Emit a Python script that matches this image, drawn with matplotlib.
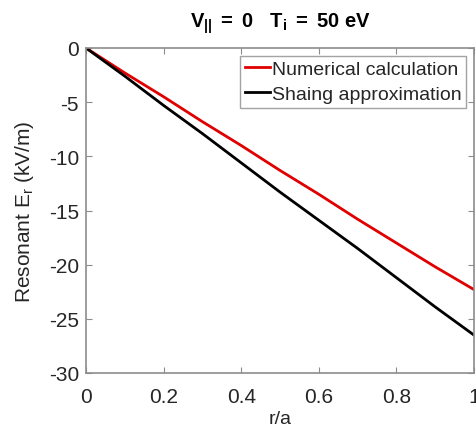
import numpy as np
import matplotlib.pyplot as plt

# radial position and resonant field values (kV/m)
r_a = [0.0, 0.1, 0.2, 0.3, 0.4, 0.5, 0.6, 0.7, 0.8, 0.9, 1.0]
er_numerical = [0.0, -2.3, -4.5, -6.8, -9.0, -11.3, -13.5, -15.8, -18.0, -20.2, -22.3]
er_shaing = [0.0, -2.6, -5.3, -7.9, -10.6, -13.3, -15.9, -18.5, -21.2, -23.9, -26.5]

x_ticks = [0, 0.2, 0.4, 0.6, 0.8, 1]
x_labels = ["0", "0.2", "0.4", "0.6", "0.8", "1"]
y_ticks = [-30, -25, -20, -15, -10, -5, 0]
y_labels = ["-30", "-25", "-20", "-15", "-10", "-5", "0"]

plt.rcParams["font.family"] = ["Liberation Sans", "DejaVu Sans"]
plt.rcParams["mathtext.fontset"] = "custom"
plt.rcParams["mathtext.rm"] = "Liberation Sans"
plt.rcParams["mathtext.it"] = "Liberation Sans"
plt.rcParams["mathtext.bf"] = "Liberation Sans:bold"

fig = plt.figure(figsize=(4.76, 4.35), dpi=100)
ax = fig.add_axes([86 / 476, 61 / 435, 388 / 476, 325 / 435])

ax.plot(r_a, er_numerical, color="#e00000", lw=2, label="Numerical calculation")
ax.plot(r_a, er_shaing, color="black", lw=2, label="Shaing approximation")

ax.set_xlim(0, 1)
ax.set_ylim(-30, 0)
ax.set_xticks(x_ticks)
ax.set_xticklabels(x_labels)
ax.set_yticks(y_ticks)
ax.set_yticklabels(y_labels)

gray = "#262626"
for s in ax.spines.values():
    s.set_color("#8c8c8c")
    s.set_linewidth(1.2)
ax.tick_params(direction="in", length=4, width=0.8, colors="#8c8c8c",
               labelcolor=gray, labelsize=15, top=True, right=True)
ax.tick_params(axis="x", pad=10)
ax.tick_params(axis="y", pad=5)

ax.set_xlabel("r/a", fontsize=14, color=gray, labelpad=3)
ax.set_ylabel("Resonant E$_r$ (kV/m)", fontsize=15, color=gray, labelpad=9)
ax.set_title(r"$\mathbf{V_{||}\ =\ 0\ \ \ T_i\ =\ 50\ eV}$", fontsize=14.5, pad=15)

leg = ax.legend(loc="upper right", fontsize=14, frameon=True, fancybox=False,
                handlelength=1.3, handletextpad=0.1, borderpad=0.25,
                labelspacing=0.35, borderaxespad=0.4)
leg.get_frame().set_edgecolor("#8c8c8c")
leg.get_frame().set_linewidth(1.0)
for t in leg.get_texts():
    t.set_color(gray)

fig.savefig("out.png", dpi=100)
